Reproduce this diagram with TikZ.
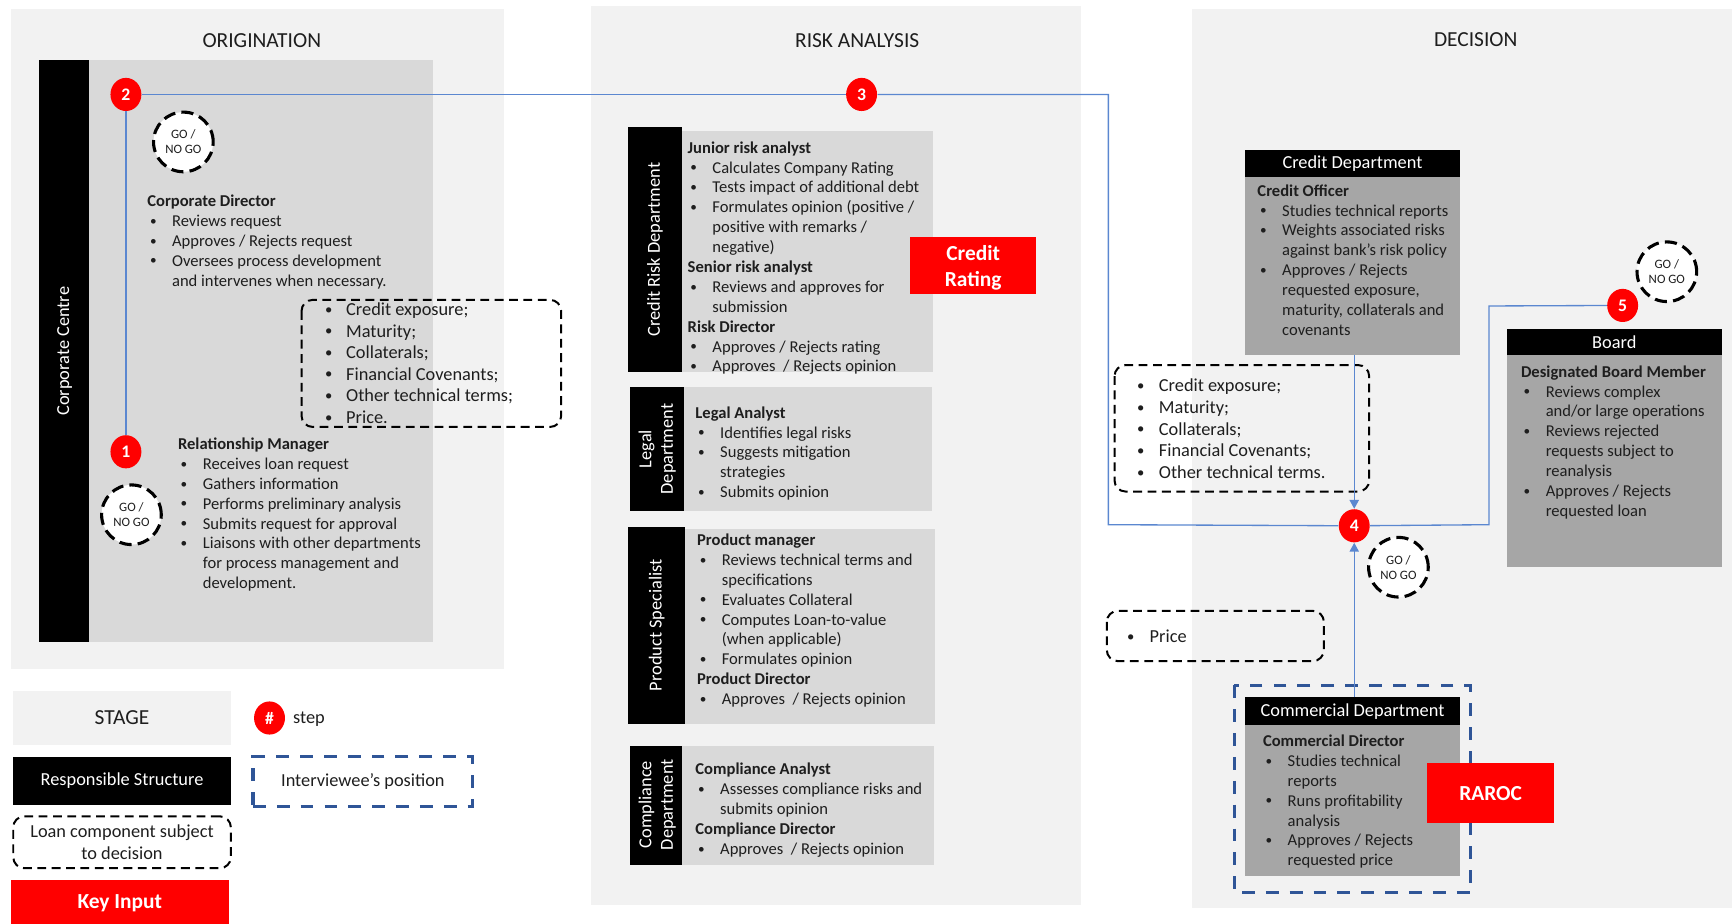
\documentclass[tikz,border=0pt]{standalone}
\usepackage{fontspec}
\setmainfont{Carlito}
\usetikzlibrary{shapes.geometric,arrows.meta}
\definecolor{stagebg}{HTML}{F2F2F2}
\definecolor{boxgray}{HTML}{D9D9D9}
\definecolor{deepgray}{HTML}{A6A6A6}
\definecolor{linkblue}{HTML}{5B87D0}
\definecolor{posblue}{HTML}{2F5597}
\definecolor{txt}{HTML}{1E1E1E}
\definecolor{keyred}{HTML}{FF0000}
\newcommand{\sbul}{\raisebox{0.6pt}{\scalebox{0.8}{\textbullet}}}
\newcommand{\hd}[1]{\multicolumn{2}{@{}l@{}}{\bfseries #1}\\}
\newcommand{\bi}[1]{\sbul & #1\\}
\newcommand{\cn}[1]{ & #1\\}
\newenvironment{blk}{\begin{tabular}[t]{@{\hspace{1.2pt}}p{10pt}@{}l@{}}}{\end{tabular}}
\newenvironment{lst}[1]{\begin{tabular}[t]{@{}p{#1}@{}l@{}}}{\end{tabular}}
\begin{document}
\begin{tikzpicture}[x=0.5pt,y=-0.5pt,
  every node/.style={text=txt},
  stagebox/.style={fill=stagebg},
  stepc/.style={ellipse, fill=keyred, text=white, font=\bfseries\fontsize{8}{9}\selectfont, minimum width=14pt, minimum height=15pt, inner sep=0pt},
  gono/.style={circle, draw=black, line width=1.4pt, dash pattern=on 5.5pt off 2.8pt, fill=white, minimum size=27pt, inner sep=0pt, align=center, font=\fontsize{5.8}{6.8}\selectfont},
  compbox/.style={draw=black, line width=0.9pt, dash pattern=on 4pt off 2.5pt, rounded corners=5pt},
  posbox/.style={draw=posblue, line width=1.5pt, dash pattern=on 5.8pt off 5pt},
  link/.style={draw=linkblue, line width=0.6pt},
  linkarrow/.style={link, -{Triangle[length=4pt,width=4.2pt]}},
  vlabel/.style={rotate=90, text=white, font=\fontsize{8.3}{9.8}\selectfont, align=center},
  body/.style={anchor=base west, inner sep=0pt, font=\fontsize{7.5}{9}\selectfont},
  lbody/.style={anchor=base west, inner sep=0pt, font=\fontsize{8.3}{9.8}\selectfont},
  stitle/.style={font=\fontsize{9.7}{11}\selectfont},
  hdr/.style={fill=black, text=white, font=\fontsize{8.3}{10}\selectfont, anchor=north west, inner sep=0pt},
  dbody/.style={fill=deepgray, anchor=north west, inner sep=0pt},
  keytxt/.style={text=white, font=\bfseries\fontsize{9.7}{11.8}\selectfont, align=center}
]
\useasboundingbox (0,0) rectangle (1568,836);

% ---------- stages ----------
\fill[stagebox] (10,8) rectangle (456,606);
\fill[stagebox] (535,5) rectangle (979,819);
\fill[stagebox] (1079,8) rectangle (1568,822);
\node[stitle] (tor) at (237,37) {ORIGINATION};
\node[stitle] (tra) at (776,37) {RISK ANALYSIS};
\node[stitle] (tde) at (1336,36) {DECISION};

% ---------- origination ----------
\fill[black] (35,54) rectangle (81,581);
\fill[boxgray] (81,54) rectangle (392,581);
\node[vlabel] (cc) at (58.5,318) {Corporate Centre};
\node[body] (cdtxt) at (133,187) {\begin{blk}
\hd{Corporate Director}
\bi{Reviews request}
\bi{Approves / Rejects request}
\bi{Oversees process development}
\cn{and intervenes when necessary.}
\end{blk}};
\node[body] (rmtxt) at (160.8,407) {\begin{blk}
\hd{Relationship Manager}
\bi{Receives loan request}
\bi{Gathers information}
\bi{Performs preliminary analysis}
\bi{Submits request for approval}
\bi{Liaisons with other departments}
\cn{for process management and}
\cn{development.}
\end{blk}};
\draw[compbox] (273,271.5) rectangle (508,386.5);
\node[lbody] (oclist) at (294,285.5) {\begin{lst}{9.5pt}
\sbul & Credit exposure;\\
\sbul & Maturity;\\
\sbul & Collaterals;\\
\sbul & Financial Covenants;\\
\sbul & Other technical terms;\\
\sbul & Price.\\
\end{lst}};

% ---------- risk analysis ----------
\fill[black] (568.5,115) rectangle (617,336.5);
\fill[boxgray] (617,118.5) rectangle (844.5,336.5);
\node[vlabel] (crd) at (593,226) {Credit Risk Department};
\node[body] (crtxt) at (622.2,138.7) {\begin{blk}
\hd{Junior risk analyst}
\bi{Calculates Company Rating}
\bi{Tests impact of additional debt}
\bi{Formulates opinion (positive /}
\cn{positive with remarks /}
\cn{negative)}
\hd{Senior risk analyst}
\bi{Reviews and approves for}
\cn{submission}
\hd{Risk Director}
\bi{Approves / Rejects rating}
\bi{Approves~ / Rejects opinion}
\end{blk}};
\node[fill=keyred, minimum width=57pt, minimum height=26pt, inner sep=0pt] (crbox) at (881,240.5) {};
\node[keytxt] (crlab) at (881,242.5) {Credit\\Rating};

\fill[black] (570,350) rectangle (619,463);
\fill[boxgray] (619,350) rectangle (844,463);
\node[vlabel] (legal) at (595,406.5) {Legal\\Department};
\node[body] (lgtxt) at (629.2,378.6) {\begin{blk}
\hd{Legal Analyst}
\bi{Identifies legal risks}
\bi{Suggests mitigation}
\cn{strategies}
\bi{Submits opinion}
\end{blk}};

\fill[black] (568.5,477) rectangle (620,655.5);
\fill[boxgray] (620,479) rectangle (846.5,655.5);
\node[vlabel] (prod) at (594.5,566) {Product Specialist};
\node[body] (pdtxt) at (630.7,493.9) {\begin{blk}
\hd{Product manager}
\bi{Reviews technical terms and}
\cn{specifications}
\bi{Evaluates Collateral}
\bi{Computes Loan-to-value}
\cn{(when applicable)}
\bi{Formulates opinion}
\hd{Product Director}
\bi{Approves~ / Rejects opinion}
\end{blk}};

\fill[black] (570,675.5) rectangle (617.5,783);
\fill[boxgray] (617.5,675.5) rectangle (845.5,783);
\node[vlabel] (comp) at (595,728.5) {Compliance\\Department};
\node[body] (cptxt) at (629.2,701.5) {\begin{blk}
\hd{Compliance Analyst}
\bi{Assesses compliance risks and}
\cn{submits opinion}
\hd{Compliance Director}
\bi{Approves~ / Rejects opinion}
\end{blk}};

% ---------- decision ----------
\node[hdr, minimum width=97.5pt, minimum height=12.3pt] (cdh) at (1126.5,135.5) {Credit Department};
\node[dbody, minimum width=97.5pt, minimum height=80.5pt] (cdb) at (1126.5,160) {};
\node[body] (cotxt) at (1138,177.6) {\begin{blk}
\hd{Credit Officer}
\bi{Studies technical reports}
\bi{Weights associated risks}
\cn{against bank’s risk policy}
\bi{Approves / Rejects}
\cn{requested exposure,}
\cn{maturity, collaterals and}
\cn{covenants}
\end{blk}};

\node[hdr, minimum width=97.5pt, minimum height=12pt] (bdh) at (1363.5,297) {Board};
\node[dbody, minimum width=97.5pt, minimum height=96pt] (bdb) at (1363.5,321) {};
\node[body] (bmtxt) at (1376.6,341.5) {\begin{blk}
\hd{Designated Board Member}
\bi{Reviews complex}
\cn{and/or large operations}
\bi{Reviews rejected}
\cn{requests subject to}
\cn{reanalysis}
\bi{Approves / Rejects}
\cn{requested loan}
\end{blk}};

\draw[compbox] (1009,330.5) rectangle (1239.5,445);
\node[lbody] (dclist) at (1029,354.7) {\begin{lst}{9.9pt}
\sbul & Credit exposure;\\
\sbul & Maturity;\\
\sbul & Collaterals;\\
\sbul & Financial Covenants;\\
\sbul & Other technical terms.\\
\end{lst}};

\draw[compbox] (1002,553) rectangle (1198.5,598.5);
\node[lbody] (prlist) at (1020,581.9) {\begin{lst}{10.2pt}
\sbul & Price\\
\end{lst}};

\draw[posbox] (1117.5,620.5) rectangle (1331.5,808);
\node[hdr, minimum width=97.5pt, minimum height=12.5pt] (cmh) at (1126.5,631) {Commercial Department};
\node[dbody, minimum width=97.5pt, minimum height=68.5pt] (cmb) at (1126.5,656) {};
\node[body] (cmtxt) at (1143,675.8) {\begin{blk}
\hd{Commercial Director}
\bi{Studies technical}
\cn{reports}
\bi{Runs profitability}
\cn{analysis}
\bi{Approves / Rejects}
\cn{requested price}
\end{blk}};
\node[fill=keyred, minimum width=57.5pt, minimum height=27pt, inner sep=0pt, keytxt] (raroc) at (1349.5,718) {RAROC};

% ---------- connectors ----------
\node[stepc] (s1) at (114,409) {1};
\node[stepc] (s2) at (114,85.5) {2};
\node[stepc] (s3) at (780,85.5) {3};
\node[stepc] (s4) at (1226,476) {4};
\node[stepc] (s5) at (1469,276.5) {5};
\coordinate (k1) at (1003.4,85.5);
\coordinate (k2) at (1003.4,475);
\coordinate (k3) at (1348,475);
\coordinate (k4) at (1348,277);
\draw[link] (s1) -- (s2);
\draw[link] (s2) -- (s3);
\draw[link] (s3) -- (k1) -- (k2) -- (s4);
\draw[link] (s4) -- (k3) -- (k4) -- (s5);
\draw[linkarrow] (cdb.south -| s4) -- (s4.north);
\draw[linkarrow] (cmh.north -| s4) -- (s4.south);

\node[gono] (g1) at (166,128.5) {GO /\\NO GO};
\node[gono] (g2) at (119,466) {GO /\\NO GO};
\node[gono] (g4) at (1266,513.5) {GO /\\NO GO};
\node[gono] (g5) at (1509,246) {GO /\\NO GO};

% ---------- legend ----------
\node[fill=stagebg, minimum width=98.5pt, minimum height=24pt, inner sep=0pt, stitle] (lstage) at (110.5,650) {STAGE};
\node[fill=black, text=white, minimum width=98.5pt, minimum height=22pt, inner sep=0pt, font=\fontsize{8.3}{10}\selectfont] (lresp) at (110.5,707) {Responsible Structure};
\node[compbox, minimum width=98.5pt, minimum height=23.5pt, inner sep=0pt, align=center, font=\fontsize{8.3}{9.8}\selectfont] (lloan) at (110.5,762.5) {Loan component subject\\to decision};
\node[fill=keyred, minimum width=98.5pt, minimum height=20pt, inner sep=0pt] (lkey) at (108.5,816.5) {};
\node[keytxt] (lkeyt) at (108.5,817.5) {Key Input};
\node[stepc] (lstep) at (244,650) {\#};
\node[anchor=west, inner sep=0pt, font=\fontsize{8.3}{10}\selectfont] (lsteptxt) at (265,651) {step};
\node[posbox, minimum width=99.5pt, minimum height=22.5pt, inner sep=0pt, font=\fontsize{8.3}{10}\selectfont] (lpos) at (328.5,707.5) {Interviewee’s position};
\end{tikzpicture}
\end{document}
